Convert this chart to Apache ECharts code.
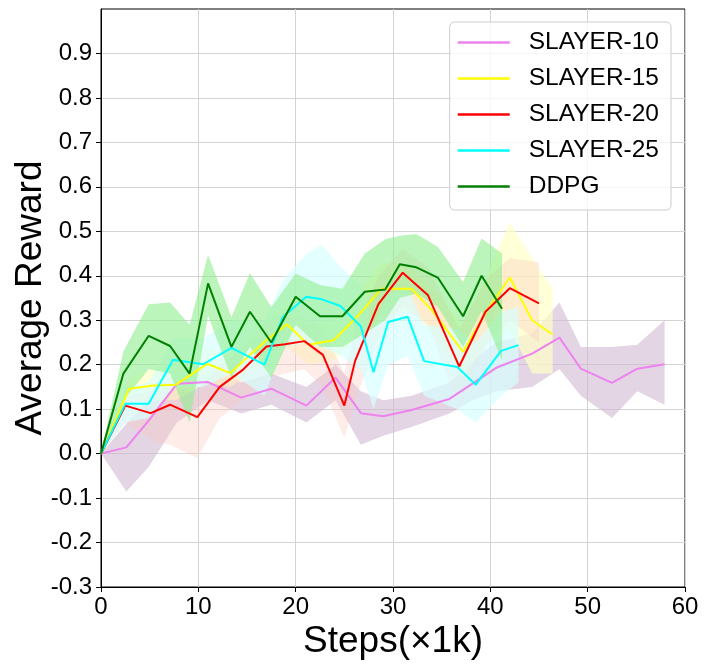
<!DOCTYPE html>
<html>
<head>
<meta charset="utf-8">
<script src="https://cdn.jsdelivr.net/npm/echarts@6/dist/echarts.min.js"></script>
<style>
  html, body { margin: 0; padding: 0; background: #fff; }
  #main { width: 707px; height: 669px; }
</style>
</head>
<body>
<div id="main"></div>
<script>
// ---------------- data ----------------
var names = ['SLAYER-10', 'SLAYER-15', 'SLAYER-20', 'SLAYER-25', 'DDPG'];

// SLAYER-10
var x10  = [0, 2.6, 4.9, 7.8, 11.0, 14.4, 17.5, 21.1, 24.1, 26.7, 29.0, 31.9, 35.8, 38.2, 40.6, 44.3, 47.1, 49.3, 52.5, 55.1, 57.9];
var y10  = [0, 0.014, 0.074, 0.157, 0.161, 0.126, 0.146, 0.108, 0.171, 0.091, 0.084, 0.098, 0.123, 0.158, 0.193, 0.225, 0.261, 0.191, 0.159, 0.191, 0.201];
var lo10 = [0, -0.085, -0.03, 0.07, 0.12, 0.09, 0.11, 0.07, 0.12, 0.02, 0.04, 0.06, 0.09, 0.12, 0.14, 0.15, 0.19, 0.13, 0.08, 0.14, 0.11];
var hi10 = [0, 0.067, 0.12, 0.19, 0.19, 0.16, 0.18, 0.15, 0.20, 0.14, 0.12, 0.13, 0.16, 0.21, 0.25, 0.27, 0.34, 0.24, 0.24, 0.245, 0.30];

// SLAYER-15
var x15  = [0, 2.9, 5.4, 7.7, 10.9, 13.3, 15.2, 17.0, 19.1, 21.3, 23.9, 26.4, 28.8, 31.9, 34.1, 37.2, 39.6, 42.0, 44.3, 46.4];
var y15  = [0, 0.146, 0.153, 0.155, 0.202, 0.181, 0.22, 0.255, 0.291, 0.245, 0.255, 0.31, 0.371, 0.371, 0.32, 0.229, 0.32, 0.396, 0.3, 0.268];
var lo15 = [0, 0.12, 0.12, 0.12, 0.16, 0.15, 0.18, 0.21, 0.24, 0.2, 0.21, 0.26, 0.31, 0.32, 0.27, 0.17, 0.25, 0.28, 0.18, 0.18];
var hi15 = [0, 0.17, 0.19, 0.2, 0.24, 0.22, 0.26, 0.3, 0.34, 0.29, 0.3, 0.36, 0.43, 0.42, 0.37, 0.29, 0.4, 0.52, 0.44, 0.37];

// SLAYER-20
var x20  = [0, 2.5, 5.1, 7.1, 9.9, 12.2, 14.6, 17.0, 18.9, 20.9, 22.8, 25.0, 26.1, 28.5, 31.0, 33.6, 36.8, 39.5, 42.0, 45.0];
var y20  = [0, 0.108, 0.091, 0.11, 0.082, 0.15, 0.189, 0.241, 0.246, 0.253, 0.222, 0.108, 0.208, 0.336, 0.407, 0.356, 0.196, 0.319, 0.372, 0.338];
var lo20 = [0, 0.07, 0.03, 0.02, -0.01, 0.08, 0.12, 0.17, 0.18, 0.19, 0.15, 0.035, 0.12, 0.26, 0.33, 0.29, 0.1, 0.24, 0.3, 0.25];
var hi20 = [0, 0.13, 0.14, 0.15, 0.135, 0.2, 0.24, 0.3, 0.31, 0.31, 0.28, 0.18, 0.28, 0.4, 0.46, 0.42, 0.28, 0.39, 0.44, 0.43];

// SLAYER-25
var x25  = [0, 2.5, 4.9, 7.4, 10.5, 13.4, 16.8, 18.7, 21.1, 22.7, 24.6, 26.7, 28.0, 29.5, 31.5, 33.2, 36.6, 38.5, 41.1, 42.9];
var y25  = [0, 0.112, 0.112, 0.211, 0.201, 0.238, 0.2, 0.308, 0.353, 0.347, 0.332, 0.286, 0.183, 0.296, 0.308, 0.208, 0.195, 0.155, 0.231, 0.244];
var lo25 = [0, 0.07, 0.08, 0.15, 0.15, 0.18, 0.13, 0.24, 0.25, 0.24, 0.22, 0.19, 0.1, 0.2, 0.22, 0.13, 0.1, 0.07, 0.13, 0.16];
var hi25 = [0, 0.15, 0.16, 0.26, 0.26, 0.3, 0.3, 0.39, 0.45, 0.47, 0.42, 0.38, 0.28, 0.36, 0.37, 0.29, 0.28, 0.25, 0.32, 0.33];

// DDPG
var xD  = [0, 2.3, 4.9, 7.1, 9.1, 11.0, 13.4, 15.3, 17.5, 20.0, 22.5, 24.8, 27.1, 29.2, 30.7, 32.4, 34.6, 37.2, 39.1, 41.2];
var yD  = [0, 0.18, 0.265, 0.242, 0.18, 0.383, 0.24, 0.319, 0.25, 0.353, 0.309, 0.309, 0.364, 0.369, 0.426, 0.419, 0.396, 0.309, 0.40, 0.326];
var loD = [0, 0.12, 0.19, 0.18, 0.07, 0.31, 0.17, 0.24, 0.17, 0.29, 0.24, 0.24, 0.27, 0.3, 0.35, 0.36, 0.33, 0.24, 0.32, 0.21];
var hiD = [0, 0.23, 0.336, 0.34, 0.29, 0.447, 0.307, 0.406, 0.33, 0.405, 0.379, 0.371, 0.45, 0.482, 0.49, 0.494, 0.465, 0.386, 0.484, 0.45];

var xTicks = [0, 10, 20, 30, 40, 50, 60];
var yTicks = [-0.3, -0.2, -0.1, 0.0, 0.1, 0.2, 0.3, 0.4, 0.5, 0.6, 0.7, 0.8, 0.9];

var FONT = '"Liberation Sans", Arial, sans-serif';

function pairs(xs, ys) {
  return xs.map(function (x, i) { return [x, ys[i]]; });
}

// shaded band drawn as one polygon through the axis scales
function band(name, xs, lo, hi, fill) {
  return {
    type: 'custom',
    name: name,
    silent: true,
    clip: true,
    z: 1,
    data: xs.map(function (x, i) { return [x, lo[i], hi[i]]; }),
    encode: { x: 0, y: [1, 2] },
    renderItem: function (params, api) {
      if (params.dataIndex !== 0) return null;
      var pts = [];
      for (var i = 0; i < xs.length; i++) pts.push(api.coord([xs[i], hi[i]]));
      for (var j = xs.length - 1; j >= 0; j--) pts.push(api.coord([xs[j], lo[j]]));
      return { type: 'polygon', shape: { points: pts }, style: { fill: fill, stroke: null } };
    }
  };
}

function line(name, xs, ys, color) {
  return {
    type: 'line',
    name: name,
    data: pairs(xs, ys),
    showSymbol: false,
    symbol: 'none',
    z: 3,
    lineStyle: { color: color, width: 2 },
    itemStyle: { color: color }
  };
}

var myChart = echarts.init(document.getElementById('main'));

var option = {
  animation: false,
  backgroundColor: '#fff',
  grid: {
    left: 101, right: 22, top: 9, bottom: 82,
    containLabel: false,
    outerBoundsMode: 'none',
    show: true, borderColor: '#000', borderWidth: 1, backgroundColor: 'transparent'
  },
  legend: {
    data: names,
    orient: 'vertical',
    right: 36,
    top: 22,
    icon: 'rect',
    itemWidth: 52,
    itemHeight: 2.5,
    itemGap: 11,
    padding: [8, 12, 11, 8],
    backgroundColor: 'rgba(255,255,255,0.8)',
    borderColor: '#cccccc',
    borderWidth: 1,
    borderRadius: 5,
    textStyle: { fontFamily: FONT, fontSize: 24.5, color: '#000', lineHeight: 24, padding: [0, 0, 0, 14] }
  },
  xAxis: {
    type: 'value',
    min: 0, max: 60, interval: 10,
    name: 'Steps(×1k)',
    nameLocation: 'middle',
    nameGap: 36,
    nameMoveOverlap: false,
    nameTextStyle: { fontFamily: FONT, fontSize: 37, color: '#000' },
    axisLine: { onZero: false, lineStyle: { color: '#000', width: 1 } },
    axisTick: { show: true, inside: false, length: 5, lineStyle: { color: '#000' } },
    axisLabel: {
      fontFamily: FONT, fontSize: 24, color: '#000', margin: 8,
      formatter: function (v) { return xTicks.indexOf(v) >= 0 ? String(v) : ''; }
    },
    splitLine: { show: true, lineStyle: { color: '#d3d3d3', width: 1 } }
  },
  yAxis: {
    type: 'value',
    min: -0.3, max: 1.0, interval: 0.1,
    name: 'Average Reward',
    nameLocation: 'middle',
    nameGap: 52,
    nameMoveOverlap: false,
    nameTextStyle: { fontFamily: FONT, fontSize: 37, color: '#000' },
    axisLine: { show: true, onZero: false, lineStyle: { color: '#000', width: 1 } },
    axisTick: { show: true, inside: false, length: 5, customValues: yTicks, lineStyle: { color: '#000' } },
    axisLabel: {
      fontFamily: FONT, fontSize: 24, color: '#000', margin: 9,
      customValues: yTicks,
      formatter: function (v) {
        var s = v.toFixed(1);
        if (s === '-0.0') s = '0.0';
        return yTicks.indexOf(parseFloat(s)) >= 0 ? s : '';
      }
    },
    splitLine: { show: true, lineStyle: { color: '#d3d3d3', width: 1 } }
  },
  series: [
    band('band-10', x10, lo10, hi10, 'rgba(210,185,212,0.6)'),
    band('band-15', x15, lo15, hi15, 'rgba(255,255,200,0.7)'),
    band('band-20', x20, lo20, hi20, 'rgba(250,200,190,0.35)'),
    band('band-25', x25, lo25, hi25, 'rgba(215,255,255,0.7)'),
    band('band-D', xD, loD, hiD, 'rgba(144,238,144,0.6)'),
    line('SLAYER-10', x10, y10, '#ee82ee'),
    line('SLAYER-15', x15, y15, '#ffff00'),
    line('SLAYER-20', x20, y20, '#ff0000'),
    line('SLAYER-25', x25, y25, '#00ffff'),
    line('DDPG', xD, yD, '#008000')
  ]
};

myChart.setOption(option);
</script>
</body>
</html>
